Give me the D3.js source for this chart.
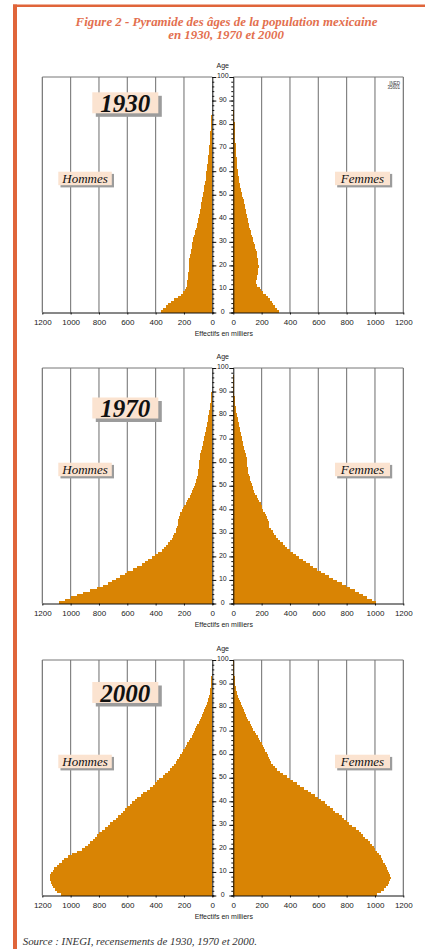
<!DOCTYPE html>
<html><head><meta charset="utf-8">
<script src="https://cdn.jsdelivr.net/npm/d3@7"></script>
<style>html,body{margin:0;padding:0;background:#fff;} svg{display:block}</style>
</head><body>
<svg id="c" width="425" height="949"></svg>
<script>
// ---------- DATA (thousands, single years of age 0..99) ----------
const ages = d3.range(0, 100);
const years = ["1930", "1970", "2000"];
const sexLabels = ["Hommes", "Femmes"];

const male1930 = [
 362,350,330,310,290,268,245,222,205,192,
 183,180,178,176,174,172,170,168,167,166,
 165,163,161,159,157,150,147,145,143,141,
 139,133,128,124,120,115,111,108,104,100,
 96,93,90,86,83,80,77,74,71,68,
 64,61,58,56,53,51,48,46,44,42,
 40,37,35,33,31,29,27,25,24,22,
 21,19,18,16,15,14,13,12,11,10,
 9,8,7,6,5.5,5,4,3.5,3,2.5,
 0,0,0,0,0,0,0,0,0,0];
const female1930 = [
 325,310,295,282,270,258,245,230,212,198,
 188,170,163,163,165,168,171,174,176,178,
 177,175,172,170,168,165,160,156,152,146,
 141,136,131,126,122,117,113,109,105,102,
 98,95,91,88,85,81,77,72,68,63,
 59,55,52,48,45,42,39,37,35,33,
 31,29,27,26,24,23,22,21,20,19,
 18,17,15,14,13,12,11,10,9.5,9,
 8.5,8,7,6,5.5,5,0,0,0,0,
 0,0,0,0,0,0,0,0,0,0];
const male1970 = [
 1082,1040,1000,958,911,864,812,769,734,711,
 680,652,617,600,562,534,499,475,452,424,
 405,381,358,341,327,311,299,287,275,268,
 259,256,249,245,242,240,235,231,226,216,
 207,198,188,179,169,160,153,146,139,132,
 124,118,112,107,103,100,98,96,95,93,
 92,90,88,84,79,75,72,69,66,62,
 59,55,52,48,44,40,37,33,30,27,
 24,21,19,16,14,12,10,8,7,6,
 5,4,3.5,3,2.5,2,1.5,1.2,1,0.8];
const female1970 = [
 1005,976,946,918,889,859,824,795,765,734,
 706,678,647,616,593,565,541,513,489,466,
 442,424,400,381,365,348,329,313,299,287,
 278,268,254,252,249,247,240,231,221,212,
 205,200,193,184,174,165,155,148,141,136,
 131,126,121,116,111,106,103,101,100,99,
 98,96,92,88,83,78,74,70,66,62,
 59,55,51,47,44,40,37,33,30,27,
 24,21,19,16,14,12,10,8.5,7,6,
 5,4,3.5,3,2.5,2,1.5,1.2,1,0.8];
const male2000 = [
 1071,1099,1111,1122,1132,1139,1146,1146,1144,1137,
 1127,1115,1099,1080,1061,1045,1021,993,958,922,
 899,880,864,845,828,812,798,781,758,739,
 722,699,682,664,647,628,616,600,581,565,
 546,529,506,487,464,440,421,407,388,374,
 351,332,315,299,285,271,259,247,238,228,
 216,205,195,186,176,167,158,146,139,129,
 122,113,106,96,89,80,73,66,59,52,
 45,38,33,28,24,19,16,14,12,9,
 9,7,6,5,4,3,3,2,2,1];
const female2000 = [
 1012,1042,1064,1078,1092,1101,1106,1111,1108,1101,
 1094,1085,1078,1068,1059,1049,1040,1031,1016,1000,
 993,979,962,948,932,915,899,885,866,840,
 819,800,784,765,746,720,704,685,664,645,
 621,600,574,551,525,499,473,449,424,400,
 376,353,332,308,292,278,268,259,252,245,
 235,226,219,209,200,191,181,172,162,153,
 141,132,122,115,106,99,89,80,73,66,
 59,52,45,38,33,28,24,21,16,14,
 12,10,9,7,6,5,4,3,3,2];

const xTicks = [0, 200, 400, 600, 800, 1000, 1200];
const gridValues = [200, 400, 600, 800, 1000];
const ageLabels = [0, 10, 20, 30, 40, 50, 60, 70, 80, 90, 100];

// ---------- LAYOUT ----------
const W = 425, H = 949;
const L0 = 212.3, L1 = 42.3, R0 = 233.3, R1 = 403.3, PH = 235.5;
const CX = (L0 + R0) / 2;
const panelTops = [77, 368, 660];
const yearBoxTops = [92.3, 397.5, 682];
const barColor = "#d98404";
const gridColor = "#7a7a7a";
const boxFill = "#fbe3d0";
const shadow = "#9c9c9c";
const serif = "'Liberation Serif','Times New Roman',serif";
const sans = "'Liberation Sans',Arial,sans-serif";

const svg = d3.select("#c");
svg.append("rect").attr("width", W).attr("height", H).attr("fill", "#fff");

const frameColor = "#e0653a";
svg.append("rect").attr("x", 13).attr("y", 4.5).attr("width", 4).attr("height", H - 4.5).attr("fill", frameColor);
svg.append("rect").attr("x", 13).attr("y", 4.5).attr("width", W - 13).attr("height", 2.5).attr("fill", frameColor);

const tg = svg.append("g").attr("font-family", serif).attr("font-style", "italic")
  .attr("font-weight", "bold").attr("font-size", 12.9).attr("fill", "#e3704f").attr("text-anchor", "middle");
tg.append("text").attr("x", 226.5).attr("y", 26).text("Figure 2 - Pyramide des âges de la population mexicaine");
tg.append("text").attr("x", 226).attr("y", 39).text("en 1930, 1970 et 2000");

const xL = d3.scaleLinear().domain([0, 1200]).range([L0, L1]);
const xR = d3.scaleLinear().domain([0, 1200]).range([R0, R1]);

const series = [[male1930, female1930], [male1970, female1970], [male2000, female2000]];

function labelBox(g, x, y, w, h, text, size, off) {
  g.append("rect").attr("x", x + off).attr("y", y + off).attr("width", w).attr("height", h).attr("fill", shadow);
  g.append("rect").attr("x", x).attr("y", y).attr("width", w).attr("height", h).attr("fill", boxFill);
  return g.append("text").attr("x", x + w / 2).attr("text-anchor", "middle")
    .attr("font-family", serif).attr("font-style", "italic").attr("font-size", size).attr("fill", "#111").text(text);
}

series.forEach(([m, f], i) => {
  const top = panelTops[i], bottom = top + PH;
  const y = d3.scaleLinear().domain([0, 100]).range([bottom, top]);
  const g = svg.append("g");

  // grid + frame
  [[xL, L1], [xR, R1]].forEach(([sx, edge]) => {
    g.append("g").selectAll("line").data(gridValues).join("line")
      .attr("x1", d => sx(d)).attr("x2", d => sx(d)).attr("y1", top).attr("y2", bottom)
      .attr("stroke", gridColor).attr("stroke-width", 1.1);
    g.append("line").attr("x1", sx(1200)).attr("x2", sx(1200)).attr("y1", top).attr("y2", bottom)
      .attr("stroke", "#666").attr("stroke-width", 1.1);
    g.append("line").attr("x1", sx(0)).attr("x2", sx(1200)).attr("y1", top).attr("y2", top)
      .attr("stroke", "#777").attr("stroke-width", 1);
  });

  // bars
  const bg = g.append("g").attr("shape-rendering", "crispEdges").attr("fill", barColor);
  bg.selectAll("rect.m").data(ages.filter(a => m[a] > 0)).join("rect").attr("class", "m")
    .attr("x", a => xL(m[a])).attr("width", a => xL(0) - xL(m[a]))
    .attr("y", a => y(a + 1)).attr("height", a => y(a) - y(a + 1));
  bg.selectAll("rect.f").data(ages.filter(a => f[a] > 0)).join("rect").attr("class", "f")
    .attr("x", xR(0)).attr("width", a => xR(f[a]) - xR(0))
    .attr("y", a => y(a + 1)).attr("height", a => y(a) - y(a + 1));

  // bottom axes
  [xL, xR].forEach(sx => {
    const ax = g.append("g").attr("transform", `translate(0,${bottom})`)
      .call(d3.axisBottom(sx).tickValues(xTicks).tickSize(2).tickSizeOuter(0).tickPadding(5).tickFormat(d3.format("d")));
    ax.select(".domain").attr("stroke", "#111");
    ax.selectAll(".tick line").attr("stroke", "#111");
    ax.selectAll("text").attr("font-family", sans).attr("font-size", 8).attr("fill", "#222");
  });
  g.append("text").attr("x", CX + 1).attr("y", bottom + 23).attr("text-anchor", "middle")
    .attr("font-family", sans).attr("font-size", 7).attr("fill", "#222").text("Effectifs en milliers");

  // central age axis
  const minor = d3.range(0, 101, 2);
  g.append("g").attr("transform", `translate(${L0},0)`)
    .call(d3.axisRight(y).tickValues(minor).tickSize(2).tickFormat(""))
    .call(s => { s.select(".domain").attr("stroke", "#111"); s.selectAll(".tick line").attr("stroke", "#111"); });
  g.append("g").attr("transform", `translate(${R0},0)`)
    .call(d3.axisLeft(y).tickValues(minor).tickSize(2).tickFormat(""))
    .call(s => { s.select(".domain").attr("stroke", "#111"); s.selectAll(".tick line").attr("stroke", "#111"); });
  g.append("g").attr("transform", `translate(${L0},0)`)
    .call(d3.axisRight(y).tickValues(ageLabels).tickSize(4).tickFormat("").tickSizeOuter(0))
    .call(s => { s.select(".domain").remove(); s.selectAll(".tick line").attr("stroke", "#111"); });
  g.append("g").attr("transform", `translate(${R0},0)`)
    .call(d3.axisLeft(y).tickValues(ageLabels).tickSize(4).tickFormat("").tickSizeOuter(0))
    .call(s => { s.select(".domain").remove(); s.selectAll(".tick line").attr("stroke", "#111"); });
  g.append("g").selectAll("text").data(ageLabels).join("text")
    .attr("x", CX).attr("y", d => y(d) + 1.2).attr("text-anchor", "middle")
    .attr("font-family", sans).attr("font-size", 7).attr("fill", "#222").text(d => d);
  g.append("text").attr("x", CX).attr("y", top - 9.5).attr("text-anchor", "middle")
    .attr("font-family", sans).attr("font-size", 7).attr("fill", "#222").text("Age");

  // labels
  const yb = yearBoxTops[i];
  labelBox(g, 92.3, yb, 66, 21, years[i], 25, 3.5).attr("font-weight", "bold").attr("y", yb + 19.5);
  labelBox(g, 58.3, top + 94.7, 53.5, 13.5, sexLabels[0], 13, 2.2).attr("y", top + 105.5);
  labelBox(g, 335, top + 94.7, 55, 13.5, sexLabels[1], 13, 2.2).attr("y", top + 105.5);

  if (i === 0) {
    const ig = g.append("g").attr("font-family", sans).attr("font-size", 4.5).attr("fill", "#333").attr("text-anchor", "end");
    ig.append("text").attr("x", 400).attr("y", top + 7.5).text("INED");
    ig.append("text").attr("x", 400).attr("y", top + 12).text("35601");
  }
});

svg.append("text").attr("x", 22.7).attr("y", 945).attr("font-family", serif).attr("font-style", "italic")
  .attr("font-size", 10.9).attr("fill", "#333").text("Source : INEGI, recensements de 1930, 1970 et 2000.");
</script>
</body></html>
